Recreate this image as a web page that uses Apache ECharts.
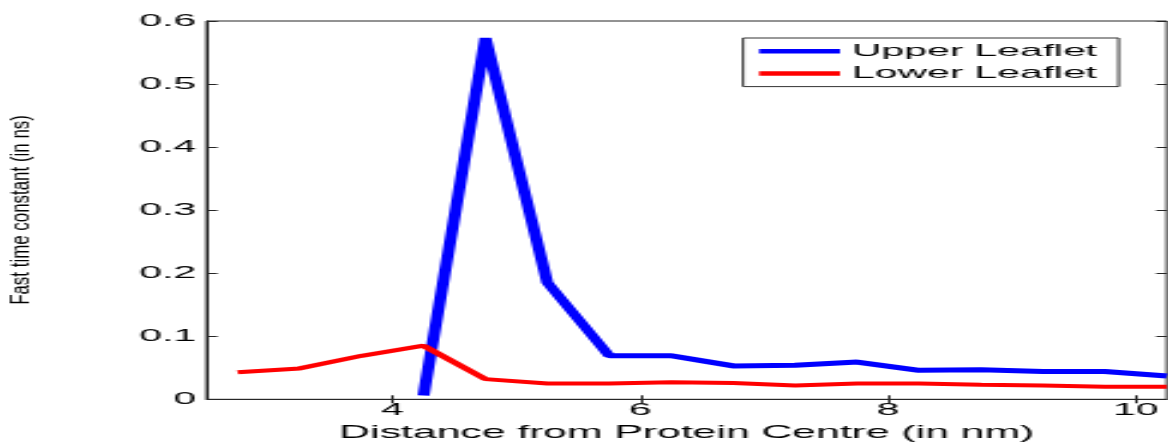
<!DOCTYPE html>
<html>
<head>
<meta charset="utf-8">
<script src="https://cdn.jsdelivr.net/npm/echarts@6/dist/echarts.min.js"></script>
<style>
  html, body { margin: 0; padding: 0; background: #fff; overflow: hidden; width: 1168px; height: 443px; }
  #chart { width: 486.667px; height: 443px; transform: scaleX(2.4); transform-origin: 0 0; }
</style>
</head>
<body>
<div id="chart"></div>
<script>
// Data
const distances = [2.75, 3.25, 3.75, 4.25, 4.75, 5.25, 5.75, 6.25, 6.75, 7.25, 7.75, 8.25, 8.75, 9.25, 9.75, 10.25];
const upperLeaflet = [null, null, null, 0.006, 0.573, 0.185, 0.069, 0.069, 0.053, 0.054, 0.059, 0.046, 0.047, 0.044, 0.044, 0.037];
const lowerLeaflet = [0.043, 0.049, 0.069, 0.085, 0.032, 0.025, 0.025, 0.027, 0.026, 0.022, 0.025, 0.025, 0.023, 0.022, 0.020, 0.020];
const xTickValues = [4, 6, 8, 10];
const seriesNames = ['Upper Leaflet', 'Lower Leaflet'];
const xTitle = 'Distance from Protein Centre (in nm)';
const yTitle = 'Fast time constant (in ns)';

const pairs = (ys) => distances.map((x, i) => [x, ys[i]]);

const FONT = 'Liberation Sans, Arial, Helvetica, sans-serif';
const AXIS = '#262626';

const chart = echarts.init(document.getElementById('chart'), null, { renderer: 'canvas' });
chart.setOption({
  animation: false,
  backgroundColor: '#ffffff',
  grid: {
    left: 86.1, right: 0.83, top: 21, bottom: 43.7,
    containLabel: false, outerBoundsMode: 'none',
    show: true, borderColor: AXIS, borderWidth: 1, backgroundColor: '#ffffff'
  },
  legend: {
    left: 309.6, top: 38,
    orient: 'vertical',
    icon: 'rect',
    itemWidth: 33.7, itemHeight: 4.5,
    itemGap: 2.2,
    padding: [3.2, 9, 3.2, 6.7],
    backgroundColor: '#ffffff',
    borderColor: '#333333', borderWidth: 1,
    textStyle: { fontFamily: FONT, fontSize: 17, color: '#000', lineHeight: 20, padding: [0, 0, 0, 0] },
    data: seriesNames
  },
  xAxis: [{
    type: 'value', min: 2.5, max: 10.25, position: 'bottom',
    name: xTitle, nameLocation: 'middle', nameGap: 21,
    nameTextStyle: { fontFamily: FONT, fontSize: 17.8, color: '#000' },
    axisLine: { show: true, onZero: false, lineStyle: { color: AXIS, width: 1 } },
    axisTick: { show: true, inside: true, length: 4, customValues: xTickValues, lineStyle: { color: AXIS } },
    axisLabel: { show: true, margin: 3, customValues: xTickValues, fontFamily: FONT, fontSize: 17, color: '#000' },
    splitLine: { show: false }
  }, {
    type: 'value', min: 2.5, max: 10.25, position: 'top',
    axisLine: { show: false },
    axisTick: { show: true, inside: true, length: 4, customValues: xTickValues, lineStyle: { color: AXIS } },
    axisLabel: { show: false },
    splitLine: { show: false }
  }],
  yAxis: [{
    type: 'value', min: 0, max: 0.6, interval: 0.1, position: 'left',
    axisLine: { show: true, onZero: false, lineStyle: { color: AXIS, width: 1 } },
    axisTick: { show: true, inside: true, length: 4.5, lineStyle: { color: AXIS } },
    axisLabel: { show: true, margin: 4.5, fontFamily: FONT, fontSize: 17, color: '#000',
      formatter: (v) => (Math.round(v * 10) / 10).toString() },
    splitLine: { show: false }
  }, {
    type: 'value', min: 0, max: 0.6, interval: 0.1, position: 'right',
    axisLine: { show: false },
    axisTick: { show: true, inside: true, length: 4.5, lineStyle: { color: AXIS } },
    axisLabel: { show: false },
    splitLine: { show: false }
  }],
  graphic: [{
    type: 'text',
    x: 9.2, y: 210,
    rotation: Math.PI / 2,
    scaleX: 1.69,
    style: {
      text: yTitle,
      fontFamily: FONT, fontSize: 10,
      fill: '#000',
      align: 'center', verticalAlign: 'middle'
    }
  }],
  series: [{
    name: seriesNames[0], type: 'line',
    data: pairs(upperLeaflet),
    showSymbol: false, symbol: 'none',
    connectNulls: false,
    lineStyle: { color: '#0000ff', width: 5, join: 'bevel', cap: 'butt' },
    itemStyle: { color: '#0000ff' },
    z: 3
  }, {
    name: seriesNames[1], type: 'line',
    data: pairs(lowerLeaflet),
    showSymbol: false, symbol: 'none',
    lineStyle: { color: '#ff0000', width: 4, join: 'bevel', cap: 'butt' },
    itemStyle: { color: '#ff0000' },
    z: 4
  }]
});
</script>
</body>
</html>
